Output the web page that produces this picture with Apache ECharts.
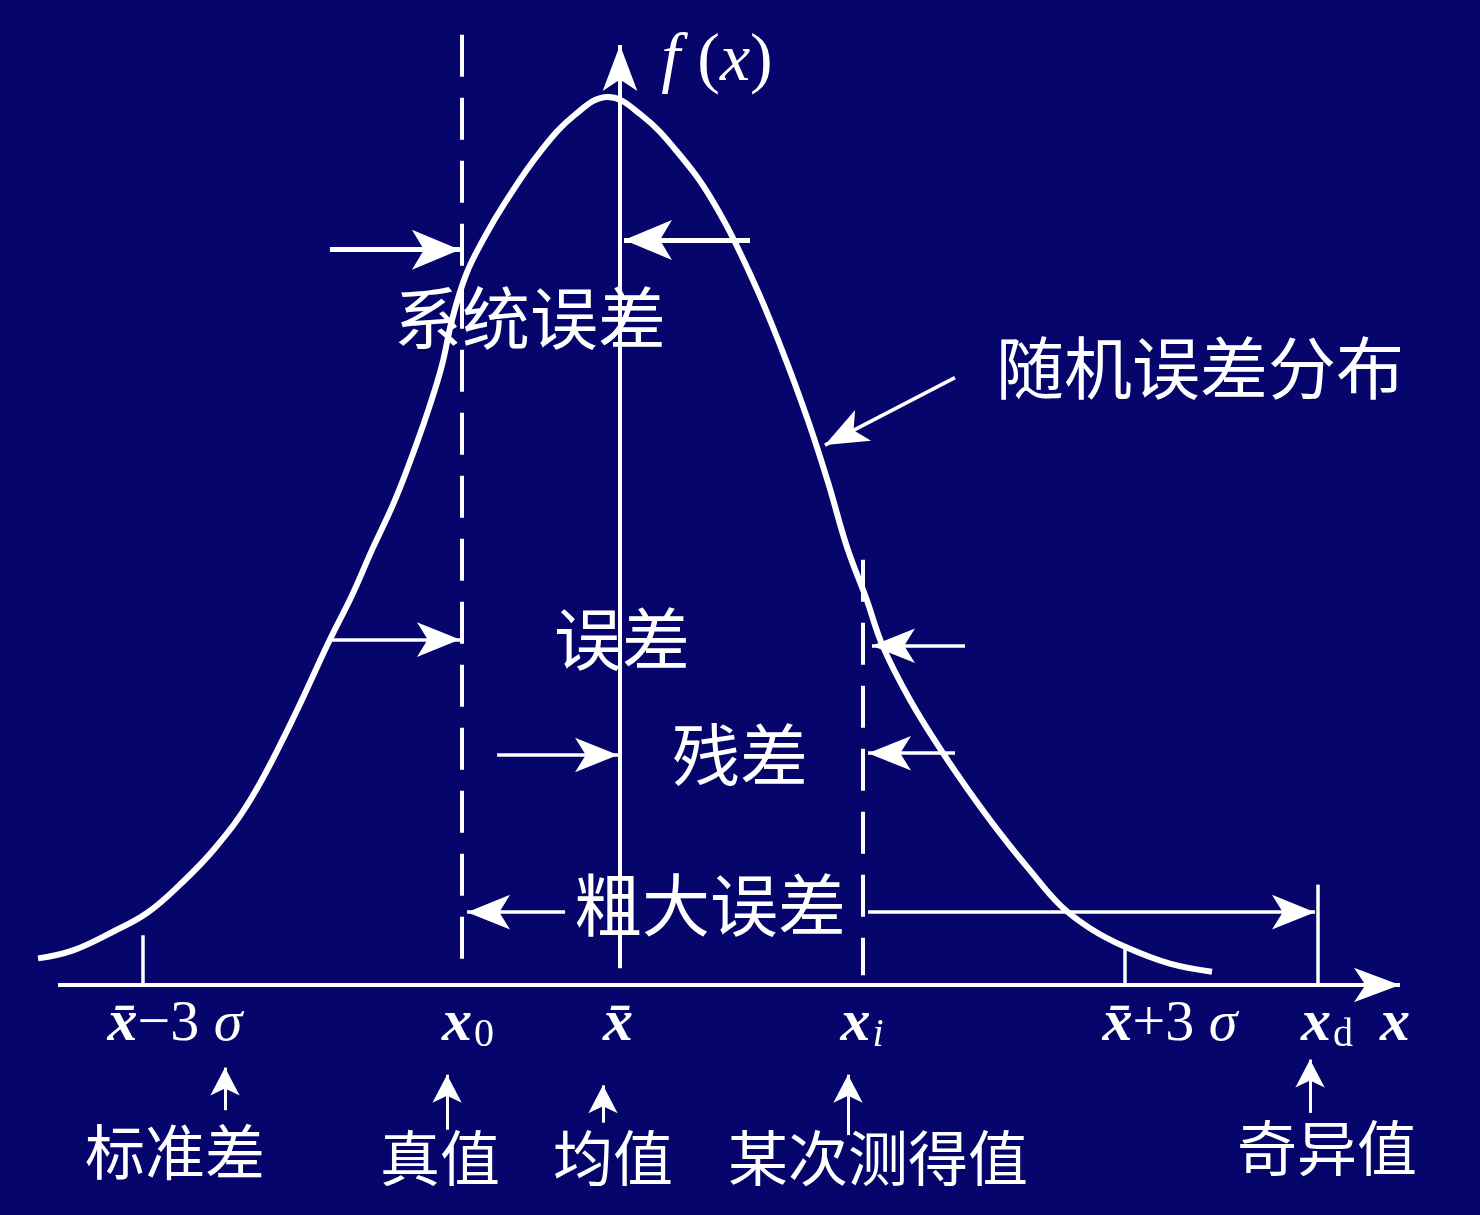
<!DOCTYPE html>
<html><head><meta charset="utf-8">
<script src="https://cdn.jsdelivr.net/npm/echarts@6/dist/echarts.min.js"></script>
<style>html,body{margin:0;padding:0;background:#05056b}#c{width:1480px;height:1215px}</style>
</head><body><div id="c"></div>
<script>
// ---- Data (x in σ-units relative to the mean, y = f(x) normalised to the peak) ----
const curveX = [-3.527,-3.315,-3.073,-2.867,-2.667,-2.455,-2.242,-2.000,-1.758,-1.624,-1.503,-1.364,-1.236,-1.152,-1.079,-1.018,-0.933,-0.824,-0.697,-0.485,-0.273,-0.073,0.127,0.339,0.558,0.800,0.982,1.139,1.261,1.376,1.491,1.594,1.758,1.958,2.109,2.303,2.485,2.667,2.848,3.061,3.333,3.588];
const curveY = [0.030,0.039,0.060,0.081,0.113,0.154,0.208,0.293,0.389,0.439,0.490,0.546,0.608,0.653,0.698,0.749,0.800,0.841,0.881,0.938,0.980,1.000,0.980,0.940,0.884,0.796,0.715,0.636,0.566,0.493,0.436,0.381,0.321,0.261,0.220,0.171,0.129,0.090,0.064,0.043,0.024,0.015];

// marked positions on the x axis
const tickNames  = ['x̄−3σ','x0','x̄','xi','x̄+3σ','xd'];
const tickValues = [-2.891,-0.958,0,1.473,3.061,4.230];
const tickHeights = [0.056,null,null,null,0.045,0.113];   // solid tick marks
const dashTops = [null,1.070,null,0.479,null,null];        // dashed verticals

// axis label anchors
const axisLabelX = [-2.697,-0.921,-0.012,1.467,3.333,4.285,4.697];
const axisLabelRich = ['{i|x\u0304}{n|−3}{g| σ}','{i|x}{s|0}','{i|x\u0304}','{i|x}{si|i}','{i|x\u0304}{n|+3}{g| σ}','{i|x}{s|d}','{i|x}'];

// explanatory words below the axis
const bottomWords = ['标准差','真值','均值','某次测得值','奇异值'];
const bottomWordX = [-2.697,-1.091,-0.042,1.564,4.285];
const bottomWordY = [-0.188,-0.195,-0.195,-0.195,-0.184];
const upArrowX = [-2.394,-1.048,-0.103,1.382,4.182];
const upArrowFrom = [-0.141,-0.163,-0.155,-0.169,-0.144];
const upArrowTo = [-0.093,-0.101,-0.113,-0.101,-0.084];

// annotation words in the plot
const noteWords = ['系统误差','随机误差分布','误差','残差','粗大误差'];
const noteX = [-0.545,3.515,0.012,0.727,0.545];
const noteY = [0.751,0.695,0.389,0.259,0.090];

// error arrows [x1,y1,x2,y2]
const bigArrows = [[-1.758,0.828,-0.970,0.828],[0.788,0.839,0.024,0.839]];
const midArrows = [[-1.758,0.389,-0.970,0.389],[2.091,0.382,1.527,0.382],[-0.745,0.259,-0.012,0.259],[2.030,0.261,1.503,0.261],[-0.333,0.082,-0.927,0.082],[1.503,0.082,4.212,0.082],[2.030,0.684,1.242,0.608]];
const axisArrows = [[0,0.019,0,1.0586],[-3.406,0,4.727,0]];

// ---- Build ----
const W = '#ffffff';
const chart = echarts.init(document.getElementById('c'));
const ml = [];
function arrow(a, width, head) {
  ml.push([
    {coord:[a[0],a[1]], symbol:'none', lineStyle:{color:W,width:width,type:'solid'}},
    {coord:[a[2],a[3]], symbol:'arrow', symbolSize:head}
  ]);
}
axisArrows.forEach(a => arrow(a, 4, [26, 46]));
bigArrows.forEach(a => arrow(a, 5, [30, 48]));
midArrows.forEach(a => arrow(a, 3.5, [26, 43]));
upArrowX.forEach((x,i) => arrow([x, upArrowFrom[i], x, upArrowTo[i]], 3, [22, 28]));
tickValues.forEach((x,i) => {
  if (tickHeights[i] != null) ml.push([
    {coord:[x, tickHeights[i]], symbol:'none', lineStyle:{color:W,width:3.5,type:'solid'}},
    {coord:[x, 0], symbol:'none'}]);
  if (dashTops[i] != null) ml.push([
    {coord:[x, dashTops[i]], symbol:'none', lineStyle:{color:W,width:4,type:[42,21]}},
    {coord:[x, 0.011], symbol:'none'}]);
});

const serif = '"Liberation Serif","DejaVu Serif",serif';
const rich = {
  i:{fontFamily:serif,fontStyle:'italic',fontWeight:'bold',fontSize:60,color:W,lineHeight:62},
  n:{fontFamily:serif,fontSize:58,color:W,lineHeight:62},
  g:{fontFamily:serif,fontStyle:'italic',fontSize:58,color:W,lineHeight:62},
  s:{fontFamily:serif,fontSize:40,color:W,lineHeight:62,verticalAlign:'bottom',padding:[0,0,0,2]},
  si:{fontFamily:serif,fontStyle:'italic',fontSize:40,color:W,lineHeight:62,verticalAlign:'bottom',padding:[0,0,0,2]},
  fi:{fontFamily:serif,fontStyle:'italic',fontSize:68,color:W,lineHeight:72},
  fn:{fontFamily:serif,fontSize:68,color:W,lineHeight:72}
};
const cjk = '"Noto Sans CJK SC"';
const lbl = (extra) => Object.assign({show:true, position:'inside', color:W, textBorderWidth:0, opacity:1}, extra);
const textData = [];
axisLabelX.forEach((x,i) => textData.push({value:[x,-0.045], label:lbl({formatter:axisLabelRich[i], rich:rich})}));
textData.push({value:[0.588,1.039], label:lbl({formatter:'{fi|f}{fn| (}{fi|x}{fn|)}', rich:rich})});
bottomWords.forEach((w,i) => textData.push({value:[bottomWordX[i],bottomWordY[i]], label:lbl({formatter:w, fontSize:60, fontFamily:cjk})}));
noteWords.forEach((w,i) => textData.push({value:[noteX[i],noteY[i]], label:lbl({formatter:w, fontSize:68, fontFamily:cjk})}));

chart.setOption({
  backgroundColor:'#05056b',
  animation:false,
  grid:{left:1.25,right:2,top:8.2,bottom:8,outerBoundsMode:'none'},
  xAxis:{type:'value',min:-3.75,max:5.2,show:false,splitLine:{show:false}},
  yAxis:{type:'value',min:-0.25,max:1.1,show:false,splitLine:{show:false}},
  series:[
    {type:'line', data:curveX.map((x,i)=>[x,curveY[i]]), smooth:0.4, symbol:'none', clip:false,
     lineStyle:{color:W,width:6},
     markLine:{silent:true, animation:false, symbol:['none','arrow'], label:{show:false}, emphasis:{disabled:true},
       lineStyle:{color:W}, data:ml}},
    {type:'scatter', data:textData, symbolSize:0, silent:true, clip:false,
     itemStyle:{color:'rgba(0,0,0,0)', opacity:1},
     label:{show:true, position:'inside', color:W}}
  ]
});
</script></body></html>
